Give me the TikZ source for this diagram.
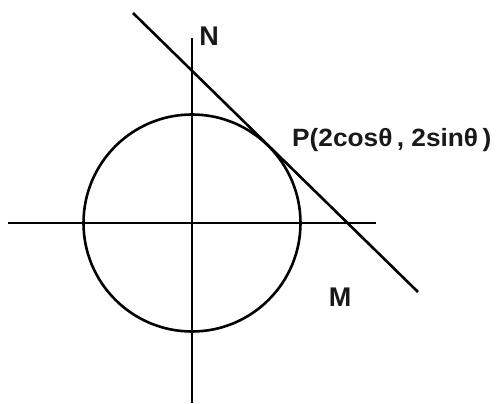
\documentclass[tikz,border=0pt]{standalone}
\usepackage{fontspec}
\setmainfont{Liberation Sans}
\begin{document}
\begin{tikzpicture}[x=1pt,y=-1pt,
  geo/.style={line width=2.6pt, black},
  lbl/.style={font=\bfseries\fontsize{27}{30}\selectfont, inner sep=0pt, text=black!90}]
\useasboundingbox (0,0) rectangle (499,404);
\coordinate (O) at (192,223);
\coordinate (xl) at (8,223);
\coordinate (xr) at (376,223);
\coordinate (yt) at (192,38);
\coordinate (yb) at (192,403);
\coordinate (t1) at (133,13);
\coordinate (t2) at (418,292);
\draw[geo] (xl) -- (xr);
\draw[geo] (yt) -- (yb);
\draw[geo] (O) circle[radius=108.5];
\draw[geo] (t1) -- (t2);
\node[lbl, anchor=center] (N) at (209,36) {N};
\node[lbl, anchor=west, font=\bfseries\fontsize{25}{28}\selectfont, xscale=1.05] (P) at (292,140) {P(2cosθ\,, 2sinθ\,)};
\node[lbl, anchor=center] (M) at (340,297) {M};
\end{tikzpicture}
\end{document}
